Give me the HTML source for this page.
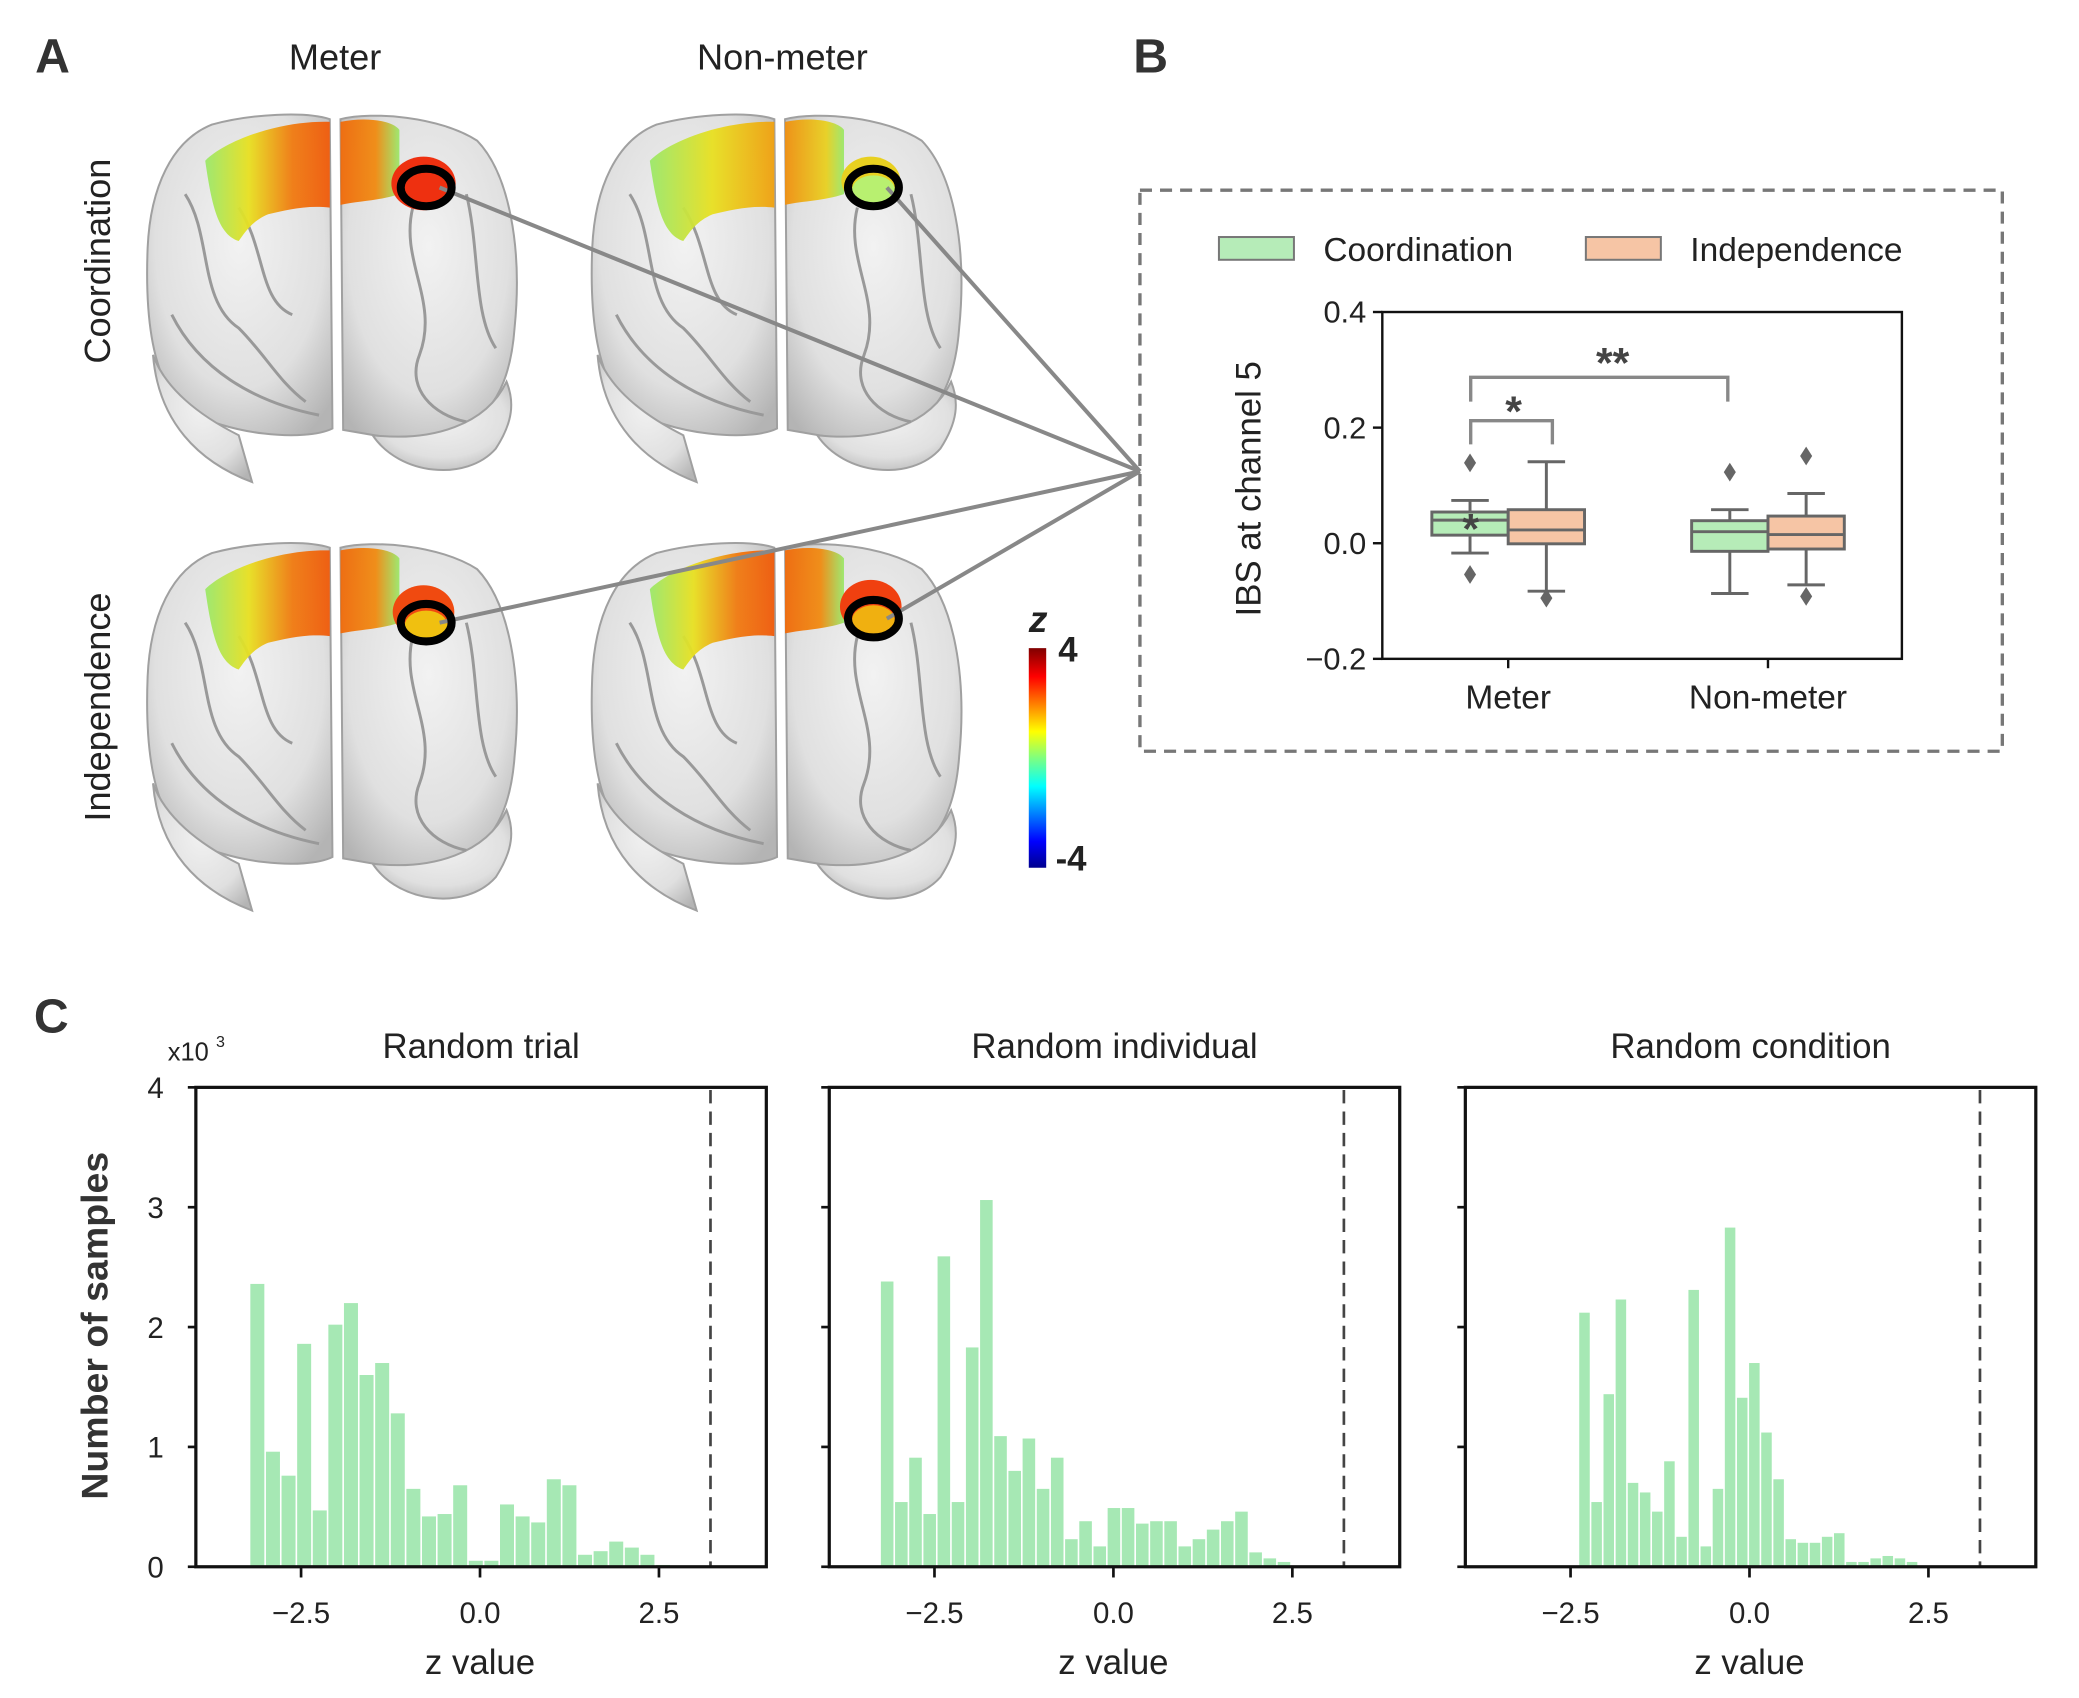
<!DOCTYPE html>
<html><head><meta charset="utf-8"><style>
html,body{margin:0;padding:0;background:#fff;}
svg{display:block;font-family:"Liberation Sans",Arial,sans-serif;}
</style></head><body>
<svg id="fig" width="2079" height="1698" viewBox="0 0 1552 1268" xmlns="http://www.w3.org/2000/svg">
<defs>
<linearGradient id="jet" x1="0" y1="1" x2="0" y2="0">
<stop offset="0" stop-color="#00008f"/><stop offset="0.12" stop-color="#0000ff"/><stop offset="0.37" stop-color="#00ffff"/><stop offset="0.5" stop-color="#7fff7f"/><stop offset="0.62" stop-color="#ffff00"/><stop offset="0.87" stop-color="#ff0000"/><stop offset="1" stop-color="#800000"/>
</linearGradient>
<radialGradient id="brainShade" cx="0.5" cy="0.4" r="0.7">
<stop offset="0" stop-color="#f2f2f2"/><stop offset="0.65" stop-color="#e0e0e0"/><stop offset="1" stop-color="#b4b4b4"/>
</radialGradient>
<linearGradient id="hotL" x1="0" y1="0" x2="1" y2="0"><stop offset="0" stop-color="#9be86a"/><stop offset="0.35" stop-color="#e8e020"/><stop offset="0.7" stop-color="#f07a10"/><stop offset="1" stop-color="#f05a0a"/></linearGradient>
<linearGradient id="hotR" x1="0" y1="0" x2="1" y2="0"><stop offset="0" stop-color="#f06a0a"/><stop offset="0.6" stop-color="#f08a10"/><stop offset="1" stop-color="#9be86a"/></linearGradient>
<linearGradient id="warmL" x1="0" y1="0" x2="1" y2="0"><stop offset="0" stop-color="#9be86a"/><stop offset="0.5" stop-color="#e8e020"/><stop offset="1" stop-color="#f0a010"/></linearGradient>
<linearGradient id="warmR" x1="0" y1="0" x2="1" y2="0"><stop offset="0" stop-color="#f09010"/><stop offset="0.7" stop-color="#e8d020"/><stop offset="1" stop-color="#9be86a"/></linearGradient>
</defs>
<g id="panelA"></g>
<g id="panelB"></g>
<g id="panelC"></g>
</svg>
<script>
// ---------- Panel C histogram data (counts in thousands) ----------
const histTitles = ["Random trial", "Random individual", "Random condition"];
const histBinStart = [-3.22, -3.26, -2.39];
const histBinWidth = [0.218, 0.198, 0.1695];
const trialCounts = [2.36,0.96,0.76,1.86,0.47,2.02,2.20,1.60,1.70,1.28,0.65,0.42,0.44,0.68,0.05,0.05,0.52,0.42,0.37,0.73,0.68,0.10,0.13,0.21,0.16,0.10,0.015];
const individualCounts = [2.38,0.54,0.91,0.44,2.59,0.54,1.83,3.06,1.09,0.80,1.07,0.65,0.91,0.23,0.38,0.17,0.49,0.49,0.36,0.38,0.38,0.17,0.23,0.31,0.38,0.46,0.12,0.07,0.04];
const conditionCounts = [2.12,0.54,1.44,2.23,0.70,0.62,0.46,0.88,0.25,2.31,0.17,0.65,2.83,1.41,1.70,1.12,0.73,0.23,0.20,0.20,0.25,0.28,0.04,0.04,0.07,0.09,0.07,0.04];
const histXTicks = [-2.5, 0.0, 2.5];
const histXTickLabels = ["\u22122.5", "0.0", "2.5"];
const histYTicks = [0, 1, 2, 3, 4];
const thresholdZ = 3.22;

// ---------- Panel B boxplot data ----------
const boxCategories = ["Meter", "Non-meter"];
const boxSeries = ["Coordination", "Independence"];
const boxQ1 = [[0.014, -0.001], [-0.014, -0.010]];
const boxQ3 = [[0.054, 0.058], [0.039, 0.047]];
const boxMedian = [[0.040, 0.023], [0.020, 0.015]];
const boxWhiskLo = [[-0.017, -0.083], [-0.087, -0.072]];
const boxWhiskHi = [[0.074, 0.141], [0.058, 0.086]];
const boxFliers = [[[0.139, -0.054], [-0.095]], [[0.123], [0.151, -0.092]]];
const boxYTicks = [-0.2, 0.0, 0.2, 0.4];
const boxYTickLabels = ["\u22120.2", "0.0", "0.2", "0.4"];

const NS = "http://www.w3.org/2000/svg";
function mk(parent, tag, attrs, text) {
  const e = document.createElementNS(NS, tag);
  for (const k in attrs) e.setAttribute(k, attrs[k]);
  if (text !== undefined) e.textContent = text;
  parent.appendChild(e);
  return e;
}

// ================= PANEL C =================
(function () {
  const g = document.getElementById("panelC");
  const L = mk(g, "text", { x: 25, y: 771, "font-size": 36, "font-weight": "bold", fill: "#333" }, "C");
  
  
  const yt = mk(g, "text", { transform: "translate(80,990) rotate(-90)", "text-anchor": "middle", "font-size": 28, "font-weight": "bold", fill: "#333" }, "Number of samples");
  
  
  const ex = mk(g, "text", { x: 125, y: 792, "font-size": 19, fill: "#222" }, "x10");
  
  
  const sup = mk(g, "text", { x: 161, y: 782, "font-size": 12, fill: "#222" }, "3");
  
  

  const lefts = [146, 619, 1094];
  const W = 426, top = 812, bottom = 1170;
  const xmin = -3.97, xmax = 4.0, ymax = 4;
  const datasets = [trialCounts, individualCounts, conditionCounts];
  datasets.forEach((counts, p) => {
    const x0 = lefts[p];
    const sx = v => x0 + (v - xmin) / (xmax - xmin) * W;
    const sy = v => bottom - v / ymax * (bottom - top);
    const pg = mk(g, "g", {});
    
    
    const t = mk(pg, "text", { x: x0 + W / 2, y: 790, "text-anchor": "middle", "font-size": 26, fill: "#222" }, histTitles[p]);
    
    
    counts.forEach((c, i) => {
      const a = histBinStart[p] + i * histBinWidth[p];
      const b = a + histBinWidth[p];
      const r = mk(pg, "rect", { x: sx(a) + 0.6, y: sy(c), width: Math.max(0.5, sx(b) - sx(a) - 1.2), height: bottom - sy(c), fill: "#a6e8b4" });
      
      
    });
    const dl = mk(pg, "line", { x1: sx(thresholdZ), x2: sx(thresholdZ), y1: top + 2, y2: bottom, stroke: "#444", "stroke-width": 2, "stroke-dasharray": "10,6" });
    
    
    const fr = mk(pg, "rect", { x: x0, y: top, width: W, height: bottom - top, fill: "none", stroke: "#111", "stroke-width": 2.4 });
    
    
    histXTicks.forEach((v, i) => {
      const tk = mk(pg, "line", { x1: sx(v), x2: sx(v), y1: bottom, y2: bottom + 8, stroke: "#111", "stroke-width": 2 });
      
      
      const tl = mk(pg, "text", { x: sx(v), y: 1212, "text-anchor": "middle", "font-size": 22, fill: "#222" }, histXTickLabels[i]);
      
      
    });
    histYTicks.forEach(v => {
      const tk = mk(pg, "line", { x1: x0 - 6, x2: x0, y1: sy(v), y2: sy(v), stroke: "#111", "stroke-width": 2 });
      
      
      if (p === 0) {
        const tl = mk(pg, "text", { x: x0 - 24, y: sy(v) + 8, "text-anchor": "end", "font-size": 22, fill: "#222" }, String(v));
        
        
      }
    });
    const xt = mk(pg, "text", { x: sx(0), y: 1250, "text-anchor": "middle", "font-size": 26, fill: "#222" }, "z value");
    
    
  });
})();

// ================= PANEL B =================
(function () {
  const g = document.getElementById("panelB");
  const L = mk(g, "text", { x: 846, y: 54, "font-size": 36, "font-weight": "bold", fill: "#333" }, "B");
  
  
  const db = mk(g, "rect", { x: 851, y: 142, width: 644, height: 419, fill: "none", stroke: "#777", "stroke-width": 2.5, "stroke-dasharray": "9,6" });
  
  
  const colors = ["#b6ecb8", "#f6c5a5"];
  const legX = [910, 1184], legTX = [988, 1262];
  boxSeries.forEach((s, i) => {
    const r = mk(g, "rect", { x: legX[i], y: 177, width: 56, height: 17, fill: colors[i], stroke: "#777", "stroke-width": 1.5 });
    
    
    const t = mk(g, "text", { x: legTX[i], y: 195, "font-size": 25, fill: "#222" }, s);
    
    
  });
  const X0 = 1032, X1 = 1420, Ytop = 233, Ybot = 492;
  const sy = v => Ybot - (v + 0.2) / 0.6 * (Ybot - Ytop);
  const catX = [1126, 1320], bw = 57;
  const yt = mk(g, "text", { transform: "translate(941,365) rotate(-90)", "text-anchor": "middle", "font-size": 26, fill: "#222" }, "IBS at channel 5");
  
  
  boxYTicks.forEach((v, i) => {
    const tk = mk(g, "line", { x1: X0 - 7, x2: X0, y1: sy(v), y2: sy(v), stroke: "#111", "stroke-width": 1.8 });
    
    
    const tl = mk(g, "text", { x: X0 - 12, y: sy(v) + 8, "text-anchor": "end", "font-size": 23, fill: "#222" }, boxYTickLabels[i]);
    
    
  });
  boxCategories.forEach((c, ci) => {
    const tk = mk(g, "line", { x1: catX[ci], x2: catX[ci], y1: Ybot, y2: Ybot + 7, stroke: "#111", "stroke-width": 1.8 });
    
    
    const tl = mk(g, "text", { x: catX[ci], y: 529, "text-anchor": "middle", "font-size": 25, fill: "#222" }, c);
    
    
    boxSeries.forEach((s, si) => {
      const xl = catX[ci] - bw + si * bw, xc = xl + bw / 2;
      const bg = mk(g, "g", {});
      
      
      const st = { stroke: "#666", "stroke-width": 2.2 };
      mk(bg, "line", Object.assign({ x1: xc, x2: xc, y1: sy(boxWhiskHi[ci][si]), y2: sy(boxQ3[ci][si]) }, st));
      mk(bg, "line", Object.assign({ x1: xc, x2: xc, y1: sy(boxQ1[ci][si]), y2: sy(boxWhiskLo[ci][si]) }, st));
      mk(bg, "line", Object.assign({ x1: xc - 14, x2: xc + 14, y1: sy(boxWhiskHi[ci][si]), y2: sy(boxWhiskHi[ci][si]) }, st));
      mk(bg, "line", Object.assign({ x1: xc - 14, x2: xc + 14, y1: sy(boxWhiskLo[ci][si]), y2: sy(boxWhiskLo[ci][si]) }, st));
      mk(bg, "rect", Object.assign({ x: xl, y: sy(boxQ3[ci][si]), width: bw, height: sy(boxQ1[ci][si]) - sy(boxQ3[ci][si]), fill: colors[si] }, st));
      mk(bg, "line", Object.assign({ x1: xl, x2: xl + bw, y1: sy(boxMedian[ci][si]), y2: sy(boxMedian[ci][si]) }, st));
      boxFliers[ci][si].forEach(f => {
        const y = sy(f);
        const d = mk(bg, "polygon", { points: `${xc},${y - 7} ${xc + 4.5},${y} ${xc},${y + 7} ${xc - 4.5},${y}`, fill: "#666" });
        
        
      });
    });
  });
  const st = mk(g, "text", { x: 1098, y: 406, "text-anchor": "middle", "font-size": 32, "font-weight": "bold", fill: "#444" }, "*");
  
  
  const fr = mk(g, "rect", { x: X0, y: Ytop, width: X1 - X0, height: Ybot - Ytop, fill: "none", stroke: "#111", "stroke-width": 1.8 });
  
  
  const b1 = mk(g, "path", { d: `M1098,${sy(0.171)} V${sy(0.212)} H1159 V${sy(0.171)}`, fill: "none", stroke: "#888", "stroke-width": 2.5 });
  
  
  const s1 = mk(g, "text", { x: 1130, y: 318, "text-anchor": "middle", "font-size": 32, "font-weight": "bold", fill: "#444" }, "*");
  
  
  const b2 = mk(g, "path", { d: `M1098,${sy(0.245)} V${sy(0.287)} H1290 V${sy(0.245)}`, fill: "none", stroke: "#888", "stroke-width": 2.5 });
  
  
  const s2 = mk(g, "text", { x: 1204, y: 282, "text-anchor": "middle", "font-size": 32, "font-weight": "bold", fill: "#444" }, "**");
  
  
})();

// ================= PANEL A =================
(function () {
  const g = document.getElementById("panelA");
  const L = mk(g, "text", { x: 26, y: 54, "font-size": 36, "font-weight": "bold", fill: "#333" }, "A");
  
  
  [["Meter", 250], ["Non-meter", 584]].forEach(([t, x]) => {
    const e = mk(g, "text", { x: x, y: 52, "text-anchor": "middle", "font-size": 27, fill: "#222" }, t);
    
    
  });
  [["Coordination", 195], ["Independence", 528]].forEach(([t, y]) => {
    const e = mk(g, "text", { transform: `translate(82,${y}) rotate(-90)`, "text-anchor": "middle", "font-size": 27, fill: "#222" }, t);
    
    
  });
  function brain(ox, oy, strong, name) {
    const bg = mk(g, "g", { transform: `translate(${ox},${oy})` });
    
    
    const sh = { fill: "url(#brainShade)", stroke: "#a0a0a0", "stroke-width": 1.5 };
    mk(bg, "path", Object.assign({ d: "M50,8 C80,0 120,-2 138,4 L140,235 C120,245 60,240 30,220 C5,200 0,150 2,100 C4,55 20,20 50,8 Z" }, sh));
    mk(bg, "path", Object.assign({ d: "M146,4 C170,-2 220,2 248,20 C272,45 282,100 276,160 C272,215 250,240 200,245 L148,236 Z" }, sh));
    mk(bg, "path", Object.assign({ d: "M6,180 C10,230 40,260 80,275 L70,240 C40,225 15,205 6,180 Z" }, sh));
    mk(bg, "path", Object.assign({ d: "M170,240 C190,270 240,275 262,250 C275,230 276,215 270,200 C255,232 215,245 170,240 Z" }, sh));
    const gy = { fill: "none", stroke: "#999", "stroke-width": 2.2 };
    mk(bg, "path", Object.assign({ d: "M30,60 C50,90 40,140 70,160 C90,180 100,200 120,215" }, gy));
    mk(bg, "path", Object.assign({ d: "M70,70 C90,100 85,140 110,150" }, gy));
    mk(bg, "path", Object.assign({ d: "M200,70 C190,110 220,140 205,180 C195,205 215,225 240,230" }, gy));
    mk(bg, "path", Object.assign({ d: "M240,60 C250,100 245,150 262,175" }, gy));
    mk(bg, "path", Object.assign({ d: "M20,150 C40,190 80,215 130,225" }, gy));
    const s = strong;
    mk(bg, "path", { d: "M45,35 C60,20 100,5 138,6 L138,70 C120,68 105,72 92,75 C80,80 75,88 70,95 C55,90 50,70 45,35 Z", fill: s ? "url(#hotL)" : "url(#warmL)", opacity: 0.95 });
    mk(bg, "path", { d: "M146,6 C165,2 185,5 190,12 L190,60 C175,65 160,65 146,68 Z", fill: s ? "url(#hotR)" : "url(#warmR)", opacity: 0.95 });
    return bg;
  }
  const b1 = brain(108, 85, true, "brain-meter-coordination");
  mk(b1, "ellipse", { cx: 208, cy: 52, rx: 24, ry: 20, fill: "#ee3010" });
  const b2 = brain(440, 85, false, "brain-nonmeter-coordination");
  mk(b2, "ellipse", { cx: 210, cy: 50, rx: 22, ry: 18, fill: "#e8d020" });
  mk(b2, "ellipse", { cx: 212, cy: 57, rx: 16, ry: 11, fill: "#b8f070" });
  const b3 = brain(108, 405, true, "brain-meter-independence");
  mk(b3, "ellipse", { cx: 208, cy: 52, rx: 23, ry: 20, fill: "#f04a10" });
  mk(b3, "ellipse", { cx: 210, cy: 62, rx: 16, ry: 11, fill: "#f0c010" });
  const b4 = brain(440, 405, true, "brain-nonmeter-independence");
  mk(b4, "ellipse", { cx: 210, cy: 48, rx: 23, ry: 20, fill: "#f04010" });
  mk(b4, "ellipse", { cx: 212, cy: 58, rx: 16, ry: 11, fill: "#f0b010" });

  const circles = [[318, 140], [652, 140], [318, 465], [652, 462]];
  circles.forEach((c, i) => {
    const ln = mk(g, "line", { x1: c[0] + 10, y1: c[1], x2: 851, y2: 352, stroke: "#888", "stroke-width": 3 });
    
    
  });
  circles.forEach(c => {
    const e = mk(g, "ellipse", { cx: c[0], cy: c[1], rx: 19, ry: 14, fill: "none", stroke: "#000", "stroke-width": 6 });
    
    
  });
  const cb = mk(g, "rect", { x: 768, y: 484, width: 13, height: 164, fill: "url(#jet)" });
  
  
  const cz = mk(g, "text", { x: 768, y: 472, "font-size": 28, "font-weight": "bold", "font-style": "italic", fill: "#222" }, "z");
  
  
  const c4 = mk(g, "text", { x: 790, y: 494, "font-size": 26, "font-weight": "bold", fill: "#222" }, "4");
  
  
  const cm = mk(g, "text", { x: 788, y: 650, "font-size": 26, "font-weight": "bold", fill: "#222" }, "-4");
  
  
})();
</script>
</body></html>
